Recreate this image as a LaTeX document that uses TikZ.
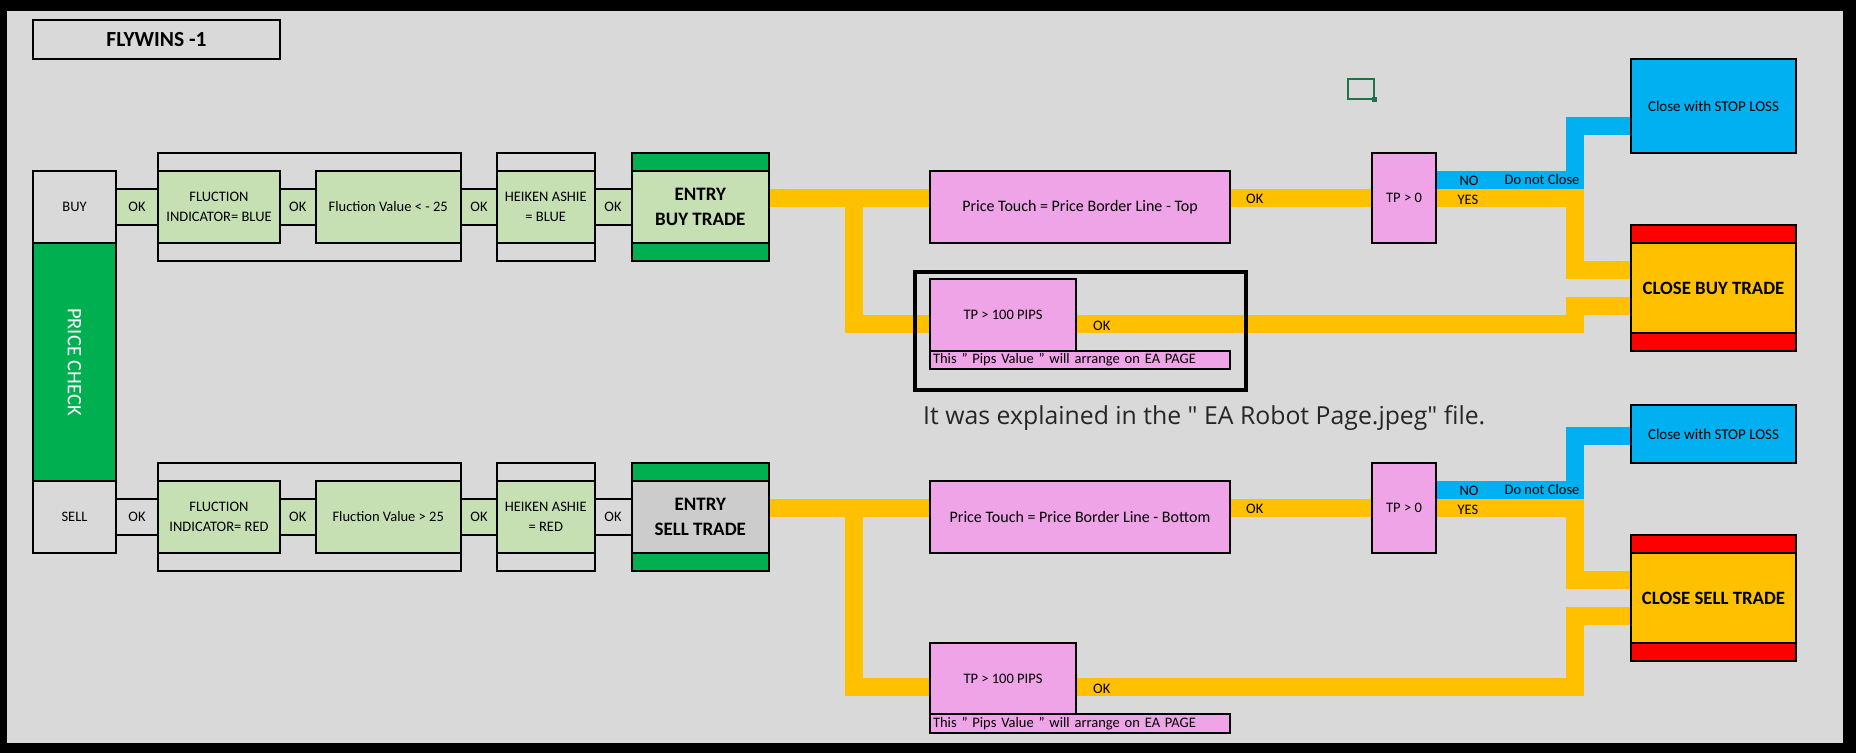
\documentclass[tikz,border=0pt]{standalone}
\usepackage{fontspec}
\setmainfont{Carlito}
\newfontfamily\notefont{Open Sans}
\usetikzlibrary{calc}

\definecolor{sheet}{RGB}{217,217,217}
\definecolor{lgreen}{RGB}{198,224,180}
\definecolor{dgreen}{RGB}{0,176,80}
\definecolor{pink}{RGB}{238,164,230}
\definecolor{sky}{RGB}{0,176,240}
\definecolor{amber}{RGB}{255,192,0}
\definecolor{xlred}{RGB}{255,0,0}
\definecolor{entgray}{RGB}{204,204,204}
\definecolor{cellgreen}{RGB}{33,115,70}

\pgfdeclarelayer{bg}
\pgfdeclarelayer{wires}
\pgfsetlayers{bg,wires,main}

\tikzset{
  box/.style={draw, line width=2pt, anchor=north west, inner sep=0pt, outer sep=0pt, align=center, font=\fontsize{14.5}{20}\selectfont},
  wh/.style 2 args={minimum width=#1pt, minimum height=#2pt},
  big/.style={font=\bfseries\fontsize{19}{25}\selectfont},
  wide/.style={font=\fontsize{16}{19}\selectfont},
  oline/.style={draw=amber, line width=18pt},
  bline/.style={draw=sky, line width=18pt},
  lbl/.style={inner sep=0pt, font=\fontsize{14.5}{17}\selectfont},
}

\begin{document}
\begin{tikzpicture}[x=1pt, y=-1pt, line join=miter]
\useasboundingbox (0,0) rectangle (1856,753);
\begin{pgfonlayer}{bg}
\fill[black] (0,0) rectangle (1856,753);
\fill[sheet] (7,11) rectangle (1843,743);
\end{pgfonlayer}

\node[box, wh={247}{39}, fill=sheet, font=\bfseries\fontsize{21.5}{24}\selectfont] (title) at (33,20) {FLYWINS -1};
\node[draw=cellgreen, line width=1.5pt, anchor=north west, inner sep=0pt, wh={26}{20}] (cell) at (1347,78) {};
\fill[cellgreen] ([shift={(-2.5pt,2.5pt)}]cell.south east) rectangle ++(5,5);

\node[box, wh={83}{72}, fill=sheet] (buy) at (33,171) {BUY};
\node[box, wh={83}{238}, fill=dgreen] (chk) at (33,243) {};
\node[rotate=-90, text=white, font=\fontsize{20.5}{23}\selectfont] (chktxt) at (chk.center) {PRICE CHECK};
\node[box, wh={83}{72}, fill=sheet] (sell) at (33,481) {SELL};

\node[box, wh={303}{108}, fill=sheet] (fra) at (158,153) {};
\node[box, wh={97.5}{108}, fill=sheet] (frb) at (497,153) {};
\node[box, wh={42}{36}, fill=lgreen] (oka1) at (116,189) {OK};
\node[box, wh={122}{72}, fill=lgreen] (fia) at (158,171) {FLUCTION\\INDICATOR= BLUE};
\node[box, wh={35.5}{36}, fill=lgreen] (oka2) at (280,189) {OK};
\node[box, wh={145.5}{72}, fill=lgreen] (fva) at (315.5,171) {Fluction Value < - 25};
\node[box, wh={36}{36}, fill=lgreen] (oka3) at (461,189) {OK};
\node[box, wh={97.5}{72}, fill=lgreen] (haa) at (497,171) {HEIKEN ASHIE\\= BLUE};
\node[box, wh={37}{36}, fill=lgreen] (oka4) at (594.5,189) {OK};
\node[box, wh={137.5}{108}, fill=dgreen] (enta) at (631.5,153) {};
\node[box, wh={137.5}{72}, fill=lgreen, big] (entat) at (631.5,171) {ENTRY\\BUY TRADE};

\node[box, wh={303}{108}, fill=sheet] (frs) at (158,463) {};
\node[box, wh={97.5}{108}, fill=sheet] (frt) at (497,463) {};
\node[box, wh={42}{36}, fill=sheet] (oks1) at (116,499) {OK};
\node[box, wh={122}{72}, fill=lgreen] (fis) at (158,481) {FLUCTION\\INDICATOR= RED};
\node[box, wh={35.5}{36}, fill=lgreen] (oks2) at (280,499) {OK};
\node[box, wh={145.5}{72}, fill=lgreen] (fvs) at (315.5,481) {Fluction Value > 25};
\node[box, wh={36}{36}, fill=lgreen] (oks3) at (461,499) {OK};
\node[box, wh={97.5}{72}, fill=lgreen] (has) at (497,481) {HEIKEN ASHIE\\= RED};
\node[box, wh={37}{36}, fill=sheet] (oks4) at (594.5,499) {OK};
\node[box, wh={137.5}{108}, fill=dgreen] (ents) at (631.5,463) {};
\node[box, wh={137.5}{72}, fill=entgray, big] (entst) at (631.5,481) {ENTRY\\SELL TRADE};

\node[box, wh={300}{72}, fill=pink, wide] (pta) at (930,171) {Price Touch = Price Border Line - Top};
\node[draw, line width=4pt, anchor=north west, inner sep=0pt, wh={331}{118}] (frame) at (913,270) {};
\node[box, wh={146}{72}, fill=pink] (tpa) at (930,279) {TP > 100 PIPS};
\node[box, wh={300}{18}, fill=pink, text width=294pt, align=left] (pva) at (930,351) {This " Pips Value " will arrange on EA PAGE};
\node[box, wh={64}{90}, fill=pink] (tza) at (1372,153) {TP > 0};
\node[box, wh={165}{94}, fill=sky, font=\fontsize{15}{18}\selectfont] (sla) at (1631,59) {Close with STOP LOSS};
\node[box, wh={165}{126}, fill=xlred] (cla) at (1631,225) {};
\node[box, wh={165}{90}, fill=amber, font=\bfseries\fontsize{18.8}{22}\selectfont] (clat) at (1631,243) {CLOSE BUY TRADE};

\node[anchor=west, inner sep=0pt, font=\notefont\fontsize{24.8}{30}\selectfont, text=black!85] (expl) at (923,418) {It was explained in the " EA Robot Page.jpeg" file.};

\node[box, wh={300}{72}, fill=pink, wide] (pts) at (930,481) {Price Touch = Price Border Line - Bottom};
\node[box, wh={146}{71}, fill=pink] (tps) at (930,643) {TP > 100 PIPS};
\node[box, wh={300}{19}, fill=pink, text width=294pt, align=left] (pvs) at (930,714) {This " Pips Value " will arrange on EA PAGE};
\node[box, wh={64}{90}, fill=pink] (tzs) at (1372,463) {TP > 0};
\node[box, wh={165}{58}, fill=sky, font=\fontsize{15}{18}\selectfont] (sls) at (1631,405) {Close with STOP LOSS};
\node[box, wh={165}{126}, fill=xlred] (cls) at (1631,535) {};
\node[box, wh={165}{90}, fill=amber, font=\bfseries\fontsize{18.8}{22}\selectfont] (clst) at (1631,553) {CLOSE SELL TRADE};

\begin{pgfonlayer}{wires}
\draw[oline] ([yshift=9pt]enta.east) -- ([yshift=9pt]pta.west);
\draw[oline] ([xshift=85pt,yshift=9pt]enta.east) |- ([yshift=-9pt]tpa.west);
\draw[oline] ([yshift=9pt]pta.east) -- (tza.west);
\draw[oline] (tza.east) -| ([xshift=-56.5pt,yshift=18.5pt]cla.west) -- ([yshift=18.5pt]cla.west);
\draw[bline] ([yshift=18pt]tza.east) -| ([xshift=-56.5pt,yshift=-19.5pt]sla.west) -- ([yshift=-19.5pt]sla.west);
\draw[oline] ([yshift=-9pt]tpa.east) -| ([xshift=-56.5pt,yshift=-18pt]cla.west) -- ([yshift=-18pt]cla.west);

\draw[oline] ([yshift=9pt]ents.east) -- ([yshift=9pt]pts.west);
\draw[oline] ([xshift=85pt,yshift=9pt]ents.east) |- ([yshift=-8.5pt]tps.west);
\draw[oline] ([yshift=9pt]pts.east) -- (tzs.west);
\draw[oline] (tzs.east) -| ([xshift=-56.5pt,yshift=18.5pt]cls.west) -- ([yshift=18.5pt]cls.west);
\draw[bline] ([yshift=18pt]tzs.east) -| ([xshift=-56.5pt,yshift=-2pt]sls.west) -- ([yshift=-2pt]sls.west);
\draw[oline] ([yshift=-8.5pt]tps.east) -| ([xshift=-56.5pt,yshift=-18pt]cls.west) -- ([yshift=-18pt]cls.west);
\end{pgfonlayer}

\node[lbl, anchor=west] (oka5) at ([xshift=16pt,yshift=8pt]pta.east) {OK};
\node[lbl, anchor=west] (oka6) at ([xshift=17pt,yshift=-10.5pt]tpa.east) {OK};
\node[lbl] (noa) at ([xshift=33pt,yshift=17pt]tza.east) {NO};
\node[lbl] (yesa) at ([xshift=32pt,yshift=-1.5pt]tza.east) {YES};
\node[lbl] (dnca) at ([xshift=106pt,yshift=18.5pt]tza.east) {Do not Close};

\node[lbl, anchor=west] (oks5) at ([xshift=16pt,yshift=8pt]pts.east) {OK};
\node[lbl, anchor=west] (oks6) at ([xshift=17pt,yshift=-10.5pt]tps.east) {OK};
\node[lbl] (nos) at ([xshift=33pt,yshift=17pt]tzs.east) {NO};
\node[lbl] (yess) at ([xshift=32pt,yshift=-1.5pt]tzs.east) {YES};
\node[lbl] (dncs) at ([xshift=106pt,yshift=18.5pt]tzs.east) {Do not Close};
\end{tikzpicture}
\end{document}
